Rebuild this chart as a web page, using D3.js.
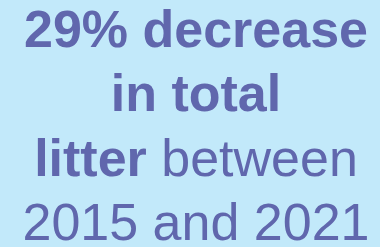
<!DOCTYPE html>
<html>
<head>
<meta charset="utf-8">
<script src="https://cdn.jsdelivr.net/npm/d3@7"></script>
<style>
  html, body { margin: 0; padding: 0; background: #c2e9fa; }
</style>
</head>
<body>
<svg id="callout" width="380" height="247"></svg>
<script>
// text of the callout, one entry per line: [text, bold?]
var line1 = [["29% decrease", true]];
var line2 = [["in total", true]];
var line3 = [["litter", true], [" between", false]];
var line4 = [["2015 and 2021", false]];
var lines = [line1, line2, line3, line4];

var svg = d3.select("#callout"),
    width = +svg.attr("width"),
    height = +svg.attr("height");

svg.append("rect")
    .attr("width", width)
    .attr("height", height)
    .attr("fill", "#c2e9fa");

// baseline of each line
var y = d3.scaleLinear()
    .domain([0, lines.length - 1])
    .range([47, 240]);

var text = svg.append("g")
    .attr("font-family", "'Liberation Sans', Arial, sans-serif")
    .attr("font-size", 52)
    .attr("fill", "#6067ad")
    .attr("text-anchor", "middle")
  .selectAll("text")
  .data(lines)
  .enter().append("text")
    .attr("x", 196)
    .attr("y", function(d, i) { return y(i); })
    .attr("xml:space", "preserve");

text.selectAll("tspan")
  .data(function(d) { return d; })
  .enter().append("tspan")
    .attr("font-weight", function(d) { return d[1] ? "bold" : "normal"; })
    .text(function(d) { return d[0]; });
</script>
</body>
</html>
